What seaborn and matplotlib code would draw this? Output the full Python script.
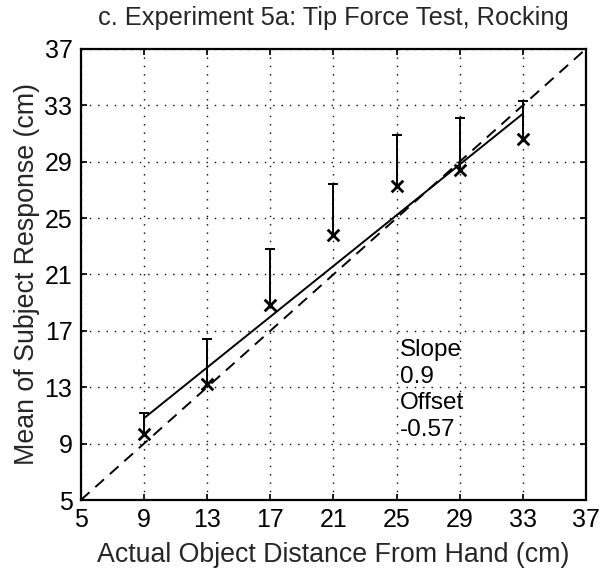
import numpy as np
import pandas as pd
import matplotlib
matplotlib.use("Agg")
import matplotlib.pyplot as plt
import seaborn as sns

sns.set_theme(style="white")
plt.rcParams["font.family"] = ["Liberation Sans", "DejaVu Sans"]

# data
distance = [9, 13, 17, 21, 25, 29, 33]
mean_response = [9.7, 13.2, 18.8, 23.8, 27.3, 28.4, 30.6]
error_top = [11.2, 16.4, 22.8, 27.4, 30.9, 32.1, 33.3]
fit_x = [9, 33]
fit_y = [10.8, 32.4]
ideal = [5, 37]
ticks = [5, 9, 13, 17, 21, 25, 29, 33, 37]
fit_text = "Slope\n0.9\nOffset\n-0.57"

df = pd.DataFrame({"distance": distance, "mean": mean_response, "top": error_top})

fig = plt.figure(figsize=(6.03, 5.77), dpi=100)
ax = fig.add_axes([0.134, 0.1334, 0.838, 0.782])

# upward-only error bars
ax.vlines(df["distance"], df["mean"], df["top"], color="black", linewidth=1.4)
ax.scatter(df["distance"], df["top"], marker="_", s=45, color="black", linewidths=1.4)

sns.scatterplot(data=df, x="distance", y="mean", marker="x", s=70,
                color="black", linewidth=2.0, ax=ax, zorder=3)
sns.lineplot(x=fit_x, y=fit_y, color="black", linewidth=1.4, ax=ax)
sns.lineplot(x=ideal, y=ideal, color="black", linewidth=1.4,
             linestyle=(0, (6, 4)), ax=ax)

ax.set_xlim(5, 37)
ax.set_ylim(5, 37)
ax.set_xticks(ticks)
ax.set_yticks(ticks)
ax.grid(True, color="black", linestyle=(0, (1, 5)), linewidth=1.0)
ax.tick_params(direction="in", length=4, labelsize=18, colors="black",
               top=True, right=True, bottom=True, left=True, pad=6)
for s in ax.spines.values():
    s.set_color("black")
    s.set_linewidth(1.6)

ax.text(25.2, 16.4, fit_text, fontsize=17.5, va="top", ha="left",
        linespacing=1.26, color="black")

ax.set_title("c. Experiment 5a: Tip Force Test, Rocking", fontsize=18.3, pad=17)
ax.set_xlabel("Actual Object Distance From Hand (cm)", fontsize=19.3, labelpad=7)
ax.set_ylabel("Mean of Subject Response (cm)", fontsize=19.3, labelpad=3)

fig.savefig("out.png", dpi=100)
